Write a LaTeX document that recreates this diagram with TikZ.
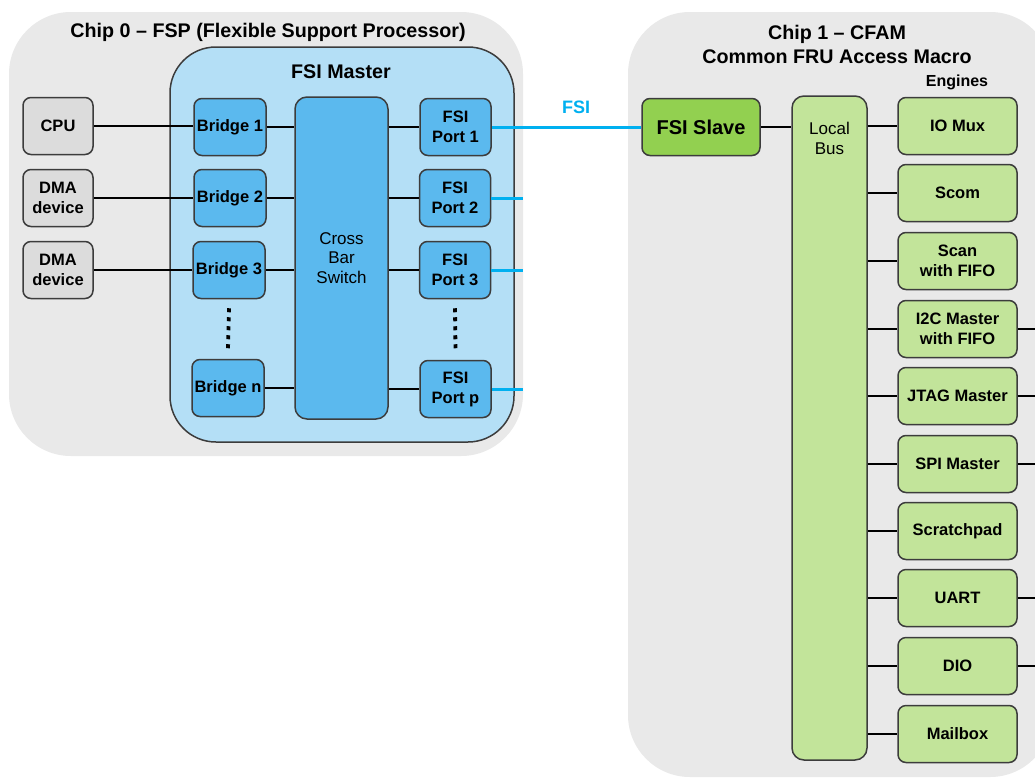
\documentclass[tikz,border=0pt]{standalone}
\usepackage{fontspec}
\setmainfont{Liberation Sans}
\definecolor{chipgray}{HTML}{E9E9E9}
\definecolor{masterblue}{HTML}{B4DFF6}
\definecolor{blockblue}{HTML}{5BB9EE}
\definecolor{hostgray}{HTML}{DCDCDC}
\definecolor{slavegreen}{HTML}{92D050}
\definecolor{enginegreen}{HTML}{C2E49A}
\definecolor{fsicyan}{HTML}{00B0F0}
\definecolor{edge}{HTML}{3C3C3C}
\begin{document}
\begin{tikzpicture}[x=1pt,y=-1pt,
  chipbg/.style={fill=chipgray, draw=none, rounded corners=62pt, inner sep=0pt},
  title/.style={font=\fontsize{19.7}{24.5}\selectfont\bfseries, align=center, inner sep=0pt},
  box/.style={draw=edge, line width=1.5pt, rounded corners=8pt, inner sep=0pt, align=center,
              font=\fontsize{16.5}{20}\selectfont\bfseries},
  graybox/.style={box, fill=hostgray, minimum width=70pt, minimum height=57pt},
  bluebox/.style={box, fill=blockblue, minimum width=72pt, minimum height=57pt},
  portbox/.style={box, fill=blockblue, minimum width=71pt, minimum height=57pt},
  enginebox/.style={box, fill=enginegreen, minimum width=119pt, minimum height=57pt},
  wire/.style={draw=black, line width=2.2pt},
  fsiwire/.style={draw=fsicyan, line width=3pt},
  vdots/.style={draw=black, line width=3.8pt, dash pattern=on 4pt off 5pt}
]
\useasboundingbox[fill=white] (0,0) rectangle (1035,779);

% ---- Chip 0 : FSP ----
\node[chipbg, minimum width=514pt, minimum height=444pt] (chip0) at (266,234) {};
\node[title] (chip0title) at (268,32) {Chip 0 – FSP (Flexible Support Processor)};
\node[draw=edge, line width=1.5pt, fill=masterblue, rounded corners=46pt,
      minimum width=344pt, minimum height=395pt, inner sep=0pt] (master) at (342,244.5) {};
\node[title] (mastertitle) at (341,72) {FSI Master};

\node[graybox] (cpu)  at (58,126) {CPU};
\node[graybox] (dma1) at (58,198) {DMA\\device};
\node[graybox] (dma2) at (58,270) {DMA\\device};

\node[bluebox] (b1) at (230,127) {Bridge 1};
\node[bluebox] (b2) at (230,198) {Bridge 2};
\node[bluebox] (b3) at (229,270) {Bridge 3};
\node[bluebox] (bn) at (228,388) {Bridge n};

\node[box, fill=blockblue, rounded corners=12pt, minimum width=93pt, minimum height=322pt,
      font=\fontsize{17}{19.5}\selectfont] (xbar) at (341.5,258) {Cross\\Bar\\Switch};

\node[portbox] (p1) at (455.5,127) {FSI\\Port 1};
\node[portbox] (p2) at (455,198)   {FSI\\Port 2};
\node[portbox] (p3) at (455,270)   {FSI\\Port 3};
\node[portbox] (pp) at (455.5,389) {FSI\\Port p};

\draw[wire] (cpu.east)  -- (cpu.east -| b1.west);
\draw[wire] (dma1.east) -- (dma1.east -| b2.west);
\draw[wire] (dma2.east) -- (dma2.east -| b3.west);
\foreach \b in {b1,b2,b3,bn} \draw[wire] (\b.east) -- (\b.east -| xbar.west);
\foreach \p in {p1,p2,p3,pp} \draw[wire] (xbar.east |- \p.west) -- (\p.west);

\draw[vdots] ([yshift=-9pt]b3.south) -- ([yshift=10pt]bn.north);
\draw[vdots] ([yshift=-9pt]p3.south) -- ([yshift=10pt]pp.north);

% ---- Chip 1 : CFAM ----
\node[chipbg, minimum width=424pt, minimum height=765pt] (chip1) at (840,394.5) {};
\node[title] (chip1title) at (837,44.5) {Chip 1 – CFAM\\Common FRU Access Macro};
\node[font=\fontsize{16}{19}\selectfont\bfseries, inner sep=0pt] (engines) at (957,82) {Engines};

\node[box, fill=slavegreen, minimum width=118pt, minimum height=57pt,
      font=\fontsize{20}{24}\selectfont\bfseries] (slave) at (701,127) {FSI Slave};

\node[box, fill=enginegreen, rounded corners=12pt, minimum width=75pt, minimum height=664pt] (bus) at (829.5,428) {};
\node[font=\fontsize{17}{20.5}\selectfont, align=center, inner sep=0pt] (buslbl) at (829.5,138.5) {Local\\Bus};

\node[enginebox] (iomux)   at (957.5,126) {IO Mux};
\node[enginebox] (scom)    at (957.5,193) {Scom};
\node[enginebox] (scan)    at (957.5,261) {Scan\\with FIFO};
\node[enginebox] (i2c)     at (957.5,329) {I2C Master\\with FIFO};
\node[enginebox] (jtag)    at (957.5,396) {JTAG Master};
\node[enginebox] (spi)     at (957.5,464) {SPI Master};
\node[enginebox] (scratch) at (957.5,531) {Scratchpad};
\node[enginebox] (uart)    at (957.5,598) {UART};
\node[enginebox] (dio)     at (957.5,666) {DIO};
\node[enginebox] (mailbox) at (957.5,734) {Mailbox};

\draw[wire] (slave.east) -- (slave.east -| bus.west);
\foreach \e in {iomux,scom,scan,i2c,jtag,spi,scratch,uart,dio,mailbox}
  \draw[wire] (bus.east |- \e.west) -- (\e.west);
\foreach \e in {i2c,jtag,spi,uart,dio}
  \draw[wire] (\e.east) -- ++(30pt,0);

% ---- FSI links ----
\node[font=\fontsize{18}{21}\selectfont\bfseries, text=fsicyan, inner sep=0pt] (fsilbl) at (576,107) {FSI};
\draw[fsiwire] (p1.east) -- (p1.east -| slave.west);
\foreach \p in {p2,p3,pp} \draw[fsiwire] (\p.east) -- (\p.east -| chip0.east);
\end{tikzpicture}
\end{document}
